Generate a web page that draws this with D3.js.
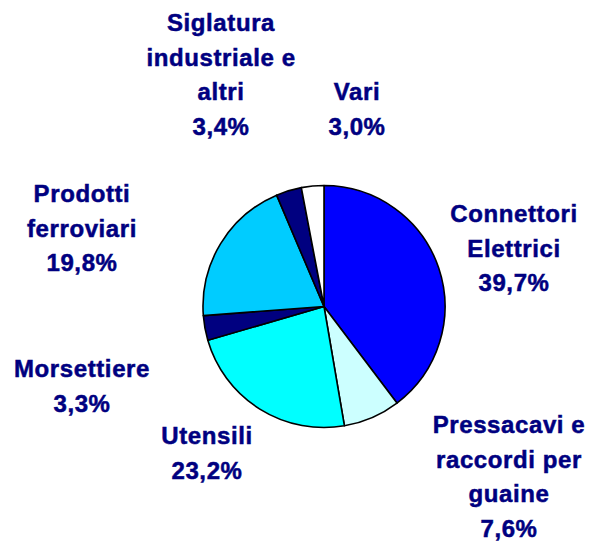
<!DOCTYPE html>
<html>
<head>
<meta charset="utf-8">
<script src="https://cdn.jsdelivr.net/npm/d3@7"></script>
<style>
  html, body { margin: 0; padding: 0; background: #ffffff; }
  svg { display: block; }
  text { font-family: "Liberation Sans", Arial, Helvetica, sans-serif; font-weight: bold; }
</style>
</head>
<body>
<script>
// ---- Data ----
const categories = [
  "Connettori Elettrici",
  "Pressacavi e raccordi per guaine",
  "Utensili",
  "Morsettiere",
  "Prodotti ferroviari",
  "Siglatura industriale e altri",
  "Vari"
];
const values = [39.7, 7.6, 23.2, 3.3, 19.8, 3.4, 3.0];
const labelLines = [
  ["Connettori", "Elettrici"],
  ["Pressacavi e", "raccordi per", "guaine"],
  ["Utensili"],
  ["Morsettiere"],
  ["Prodotti", "ferroviari"],
  ["Siglatura", "industriale e", "altri"],
  ["Vari"]
];
const colors = ["#0000FF", "#CCFFFF", "#00FFFF", "#000080", "#00CCFF", "#000080", "#FFFFFF"];

// ---- Layout ----
const W = 591, H = 541;
const cx = 324, cy = 306.5, R = 121;
const lineH = 34.5;
// label anchor: centre x, baseline of first line
const labelPos = [
  [514, 222],
  [509, 433],
  [207, 444],
  [82, 377],
  [82, 202],
  [221, 31],
  [357, 100]
];

const svg = d3.select("body").append("svg").attr("width", W).attr("height", H);

const pie = d3.pie().sort(null).value(d => d)(values);
const arc = d3.arc().innerRadius(0).outerRadius(R);

svg.append("g").attr("transform", `translate(${cx},${cy})`)
  .selectAll("path").data(pie).join("path")
  .attr("d", arc)
  .attr("fill", (d, i) => colors[i])
  .attr("stroke", "#000000")
  .attr("stroke-width", 1.6)
  .attr("stroke-linejoin", "round");

const fmt = v => v.toFixed(1).replace(".", ",") + "%";

categories.forEach((c, i) => {
  const lines = labelLines[i].concat([fmt(values[i])]);
  const t = svg.append("text")
    .attr("text-anchor", "middle")
    .style("font-size", "24px")
    .style("letter-spacing", "0.6px")
    .attr("fill", "#000080")
    .attr("stroke", "#000080")
    .attr("stroke-width", 0.5);
  lines.forEach((ln, k) => {
    t.append("tspan").attr("x", labelPos[i][0]).attr("y", labelPos[i][1] + k * lineH).text(ln);
  });
});
</script>
</body>
</html>
